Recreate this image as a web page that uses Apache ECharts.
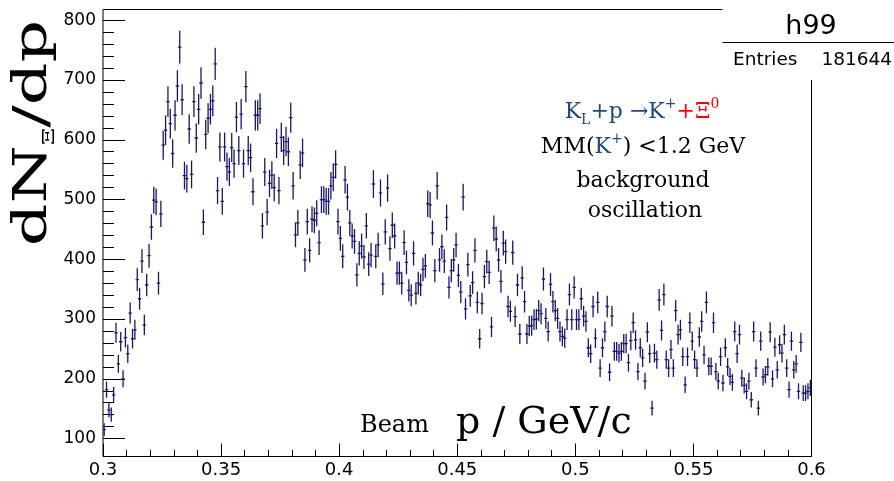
<!DOCTYPE html>
<html><head><meta charset="utf-8">
<script src="https://cdn.jsdelivr.net/npm/echarts@6/dist/echarts.min.js"></script>
<style>html,body{margin:0;padding:0;background:#fff}#c{width:894px;height:481px}</style>
</head><body><div id="c"></div>
<script>
// ---- data ----
const X_MIN = 0.3, X_MAX = 0.6, BIN_W = 0.001, X_TICK_STEP = 0.05;
const Y_MIN = 70, Y_MAX = 818;
const Y_TICK_MIN = 100, Y_TICK_MAX = 800, Y_TICK_STEP = 100;
const histName = 'h99';
const entriesLabel = 'Entries';
const entriesValue = '181644';
const counts = [
  115,182,148,140,173,277,225,262,200,269,242,310,267,282,366,334,397,290,357,406,
  454,499,496,360,476,591,616,664,627,577,641,690,755,667,540,535,618,542,664,603,
  651,695,462,609,636,651,665,727,515,588,497,588,555,546,587,560,638,582,643,560,689,
  582,570,513,641,641,652,456,546,479,527,541,520,594,515,604,582,597,580,637,523,
  441,461,558,578,399,463,415,467,465,477,428,500,500,497,497,523,537,559,463,435,405,533,
  504,461,439,430,374,410,422,404,456,392,407,526,405,424,511,359,446,519,418,457,
  439,377,377,360,428,395,348,340,410,343,360,357,383,389,493,491,444,381,523,399,
  421,397,470,353,381,399,424,373,345,504,317,391,339,361,415,328,267,326,371,396,
  378,287,452,434,399,363,427,413,321,313,411,304,357,275,369,329,275,288,289,299,
  300,314,309,367,301,279,358,329,314,301,279,271,268,299,341,299,353,299,299,334,
  305,296,252,242,321,268,328,218,252,279,321,211,305,246,246,243,246,259,259,227,
  264,294,265,212,252,235,196,278,242,151,243,232,332,281,341,232,218,249,218,314,
  274,282,237,190,237,294,263,232,218,270,296,240,328,221,221,294,212,196,237,
  193,252,220,204,194,279,242,274,201,189,179,196,165,279,218,151,263,203,207,220,
  278,200,253,215,257,243,274,218,182,263,215,225,179,261,176,176,179,185
];
// Poisson errors sqrt(N), bin centres from bin edges
const seriesData = counts.map((v, i) => [X_MIN + (i + 0.5) * BIN_W, v, Math.sqrt(v)]);

// ---- layout ----
const Hc = 481;
const L = 103, R = 82.5, T = 9.5, B = 24.5;
const PH = Hc - T - B;
const T2 = T + (Y_MAX - Y_TICK_MAX) / (Y_MAX - Y_MIN) * PH;
const B2 = B + (Y_TICK_MIN - Y_MIN) / (Y_MAX - Y_MIN) * PH;
const MARK = '#17176c';
const SERIF = '"DejaVu Serif", "Liberation Serif", serif';
const SANS = '"DejaVu Sans", "Liberation Sans", sans-serif';
const BLUE = '#1F497D', RED = '#FF0000';

const chart = echarts.init(document.getElementById('c'), null, {renderer: 'canvas'});
chart.setOption({
  animation: false,
  backgroundColor: '#fff',
  grid: [
    {left: L, right: R, top: T, bottom: B, show: true, borderColor: '#000', borderWidth: 1, backgroundColor: 'transparent'},
    {left: L, right: R, top: T2, bottom: B2, show: false}
  ],
  xAxis: [
    {type: 'value', gridIndex: 0, min: X_MIN, max: X_MAX, interval: X_TICK_STEP,
     axisLine: {show: false}, splitLine: {show: false},
     axisTick: {show: true, inside: true, length: 13, lineStyle: {color: '#000', width: 1}},
     minorTick: {show: true, splitNumber: 5, length: 6.5, lineStyle: {color: '#000', width: 1}},
     axisLabel: {color: '#000', fontFamily: SANS, fontSize: 18, margin: 5,
       formatter: v => String(Math.round(v * 100) / 100)}},
    {type: 'value', gridIndex: 1, min: X_MIN, max: X_MAX, show: false}
  ],
  yAxis: [
    {type: 'value', gridIndex: 0, min: Y_MIN, max: Y_MAX, show: false, splitLine: {show: false}},
    {type: 'value', gridIndex: 1, min: Y_TICK_MIN, max: Y_TICK_MAX, interval: Y_TICK_STEP,
     axisLine: {show: false}, splitLine: {show: false},
     axisTick: {show: true, inside: true, length: 22, lineStyle: {color: '#000', width: 1}},
     minorTick: {show: true, splitNumber: 5, length: 11, lineStyle: {color: '#000', width: 1}},
     axisLabel: {color: '#000', fontFamily: SANS, fontSize: 17, margin: 7}}
  ],
  series: [{
    type: 'custom', xAxisIndex: 0, yAxisIndex: 0, clip: true,
    data: seriesData,
    renderItem: function (params, api) {
      const x = api.value(0), y = api.value(1), e = api.value(2);
      const top = api.coord([x, y + e]), bot = api.coord([x, y - e]);
      const l = api.coord([x - BIN_W / 2, y]), r = api.coord([x + BIN_W / 2, y]);
      const st = {stroke: MARK, lineWidth: 1.3};
      return {type: 'group', children: [
        {type: 'line', shape: {x1: top[0], y1: top[1], x2: bot[0], y2: bot[1]}, style: st},
        {type: 'line', shape: {x1: l[0] - 0.5, y1: l[1], x2: r[0] + 0.5, y2: r[1]}, style: st}
      ]};
    }
  }],
  graphic: [
    {type: 'rect', z: 50, shape: {x: 722.5, y: 0, width: 200, height: 80}, style: {fill: '#fff'}},
    {type: 'line', z: 51, shape: {x1: 722.5, y1: 42.5, x2: 894, y2: 42.5}, style: {stroke: '#000', lineWidth: 1}},
    {type: 'text', z: 52, x: 811, y: 27, style: {text: histName, fontFamily: SANS, fontSize: 27, fill: '#000', textAlign: 'center', textVerticalAlign: 'middle'}},
    {type: 'text', z: 52, x: 733, y: 60, style: {text: entriesLabel, fontFamily: SANS, fontSize: 18.5, fill: '#000', textAlign: 'left', textVerticalAlign: 'middle'}},
    {type: 'text', z: 52, x: 892, y: 60, style: {text: entriesValue, fontFamily: SANS, fontSize: 18.5, fill: '#000', textAlign: 'right', textVerticalAlign: 'middle'}},
    // y title
    {type: 'text', z: 52, x: 34, y: 133, rotation: Math.PI / 2, scaleX: 1.45,
     style: {text: '{a|dN}{s|Ξ}{a|/dp}', textAlign: 'center', textVerticalAlign: 'middle',
       rich: {a: {fontFamily: SERIF, fontSize: 46, fill: '#000', lineHeight: 56, verticalAlign: 'middle'},
              s: {fontFamily: SERIF, fontSize: 17, fill: '#000', lineHeight: 56, verticalAlign: 'bottom', padding: [0, 0, 4, 0]}}}},
    // x title
    {type: 'text', z: 52, x: 360, y: 426, style: {text: 'Beam', fontFamily: SERIF, fontSize: 24, fill: '#000', textAlign: 'left', textVerticalAlign: 'middle'}},
    {type: 'text', z: 52, x: 456, y: 423, style: {text: 'p / GeV/c', fontFamily: SERIF, fontSize: 38, fill: '#000', textAlign: 'left', textVerticalAlign: 'middle'}},
    // annotation
    {type: 'text', z: 52, x: 642, y: 112,
     style: {text: '{b|K}{bs|L}{b|+p →K}{bp|+}{r|+Ξ}{rp|0}', textAlign: 'center', textVerticalAlign: 'middle',
       rich: {b: {fontFamily: SERIF, fontSize: 22, fill: BLUE, lineHeight: 30, verticalAlign: 'middle'},
              bs: {fontFamily: SERIF, fontSize: 14, fill: BLUE, lineHeight: 30, verticalAlign: 'bottom'},
              bp: {fontFamily: SERIF, fontSize: 14, fill: BLUE, lineHeight: 30, verticalAlign: 'top'},
              r: {fontFamily: SERIF, fontSize: 22, fill: RED, lineHeight: 30, verticalAlign: 'middle'},
              rp: {fontFamily: SERIF, fontSize: 14, fill: RED, lineHeight: 30, verticalAlign: 'top'}}}},
    {type: 'text', z: 52, x: 643, y: 147,
     style: {text: '{k|MM(}{b|K}{bp|+}{k|) <1.2 GeV}', textAlign: 'center', textVerticalAlign: 'middle',
       rich: {k: {fontFamily: SERIF, fontSize: 22, fill: '#000', lineHeight: 30, verticalAlign: 'middle'},
              b: {fontFamily: SERIF, fontSize: 22, fill: BLUE, lineHeight: 30, verticalAlign: 'middle'},
              bp: {fontFamily: SERIF, fontSize: 14, fill: BLUE, lineHeight: 30, verticalAlign: 'top'}}}},
    {type: 'text', z: 52, x: 643, y: 181, style: {text: 'background', fontFamily: SERIF, fontSize: 22, fill: '#000', textAlign: 'center', textVerticalAlign: 'middle'}},
    {type: 'text', z: 52, x: 645, y: 211, style: {text: 'oscillation', fontFamily: SERIF, fontSize: 22, fill: '#000', textAlign: 'center', textVerticalAlign: 'middle'}}
  ]
});
</script></body></html>
